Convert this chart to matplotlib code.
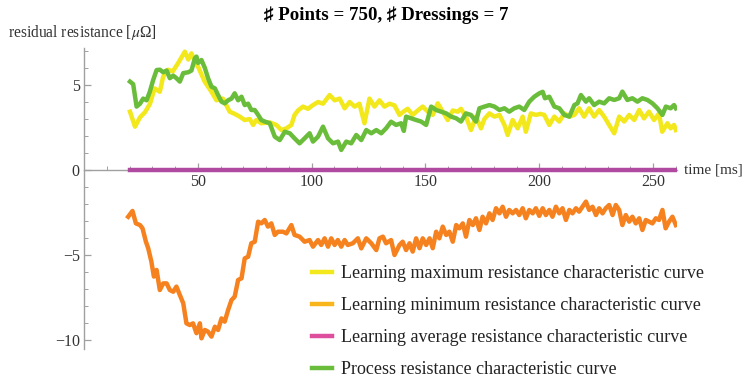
import matplotlib.pyplot as plt
from matplotlib.lines import Line2D
from matplotlib.ticker import MultipleLocator

plt.rcParams['font.family'] = ['Liberation Serif', 'DejaVu Sans']
plt.rcParams['mathtext.fontset'] = 'stix'

#Curves (time in ms, resistance in micro ohm)
t_max = [20.2, 22.4, 24.6, 26.8, 29, 31, 33.3, 34.8, 36.8, 39, 41.4, 44.3, 45.8, 47.2, 48.7,
         50.1, 53, 54.5, 56, 58.2, 61, 64, 66.2, 68.4, 70.6, 72.8, 74.3, 75.7, 77.9, 81.6,
         84.5, 86.7, 88.9, 91.1, 92.5, 94, 96.2, 98.4, 100.6, 102.8, 105, 107.9, 110.1, 112.3,
         114.5, 116.7, 118.9, 121, 123.2, 125.4, 127.6, 129.8, 132, 134.2, 136.4, 138.6, 140,
         142.2, 144.4, 146.6, 148.8, 151, 153.2, 155.4, 157.6, 159.8, 162, 164.2, 165.6, 167.8,
         170, 172.2, 174.4, 175.9, 178.1, 180.3, 182.5, 184.7, 186.1, 188.3, 190.5, 192.7,
         194.1, 196.3, 198.5, 200.5, 202.2, 204.4, 206.6, 208.8, 211, 213.2, 215.4, 217.5,
         219.7, 221.9, 224.1, 226.3, 228.5, 230.7, 232.9, 235.1, 237.3, 239.5, 241.7, 243.9,
         246, 248.2, 250.4, 252.6, 254, 256.3, 257.7, 259.2, 260]
r_max = [3.43, 2.55, 3.1, 3.4, 3.9, 4.8, 4.6, 5.5, 5.9, 5.8, 6.3, 6.96, 6.5, 6.86, 6.4,
         6.08, 5.2, 4.9, 4.6, 4.1, 4.2, 3.43, 3.3, 3.14, 2.94, 3.0, 2.65, 2.94, 2.75, 2.8,
         2.65, 2.35, 2.45, 2.65, 3.24, 3.5, 3.73, 3.6, 3.82, 4.0, 3.9, 4.41, 4.1, 4.2,
         3.63, 4.0, 3.73, 3.9, 2.75, 4.2, 3.73, 4.1, 3.73, 3.9, 3.8, 3.24, 3.4,
         3.6, 3.24, 3.5, 3.73, 3.43, 3.24, 3.92, 3.43, 2.94, 3.5, 3.43, 3.6, 3.14,
         2.35, 3.14, 2.45, 3.0, 3.33, 3.14, 3.24, 2.65, 2.06, 2.94, 2.45, 3.14,
         2.25, 3.33, 3.24, 3.3, 3.24, 2.65, 3.14, 2.85, 3.33, 3.14, 3.24, 3.63,
         3.14, 3.63, 3.14, 3.53, 3.14, 2.65, 2.16, 3.14, 2.85, 3.24, 2.94, 3.53,
         3.04, 3.43, 2.94, 3.33, 2.25, 2.75, 2.45, 2.65, 2.35]

t_min = [19.4, 21.3, 22.8, 24.6, 25.7, 27.2, 28.2, 29.6, 30.7, 31.9, 33.3, 34.8, 36.3, 37.7,
         39.2, 40.6, 42.1, 43.6, 45, 46.5, 47.9, 49.4, 50.9, 51.6, 53.1, 54.5, 56, 57.5, 58.9,
         60.4, 61.8, 63.3, 64.8, 66.2, 67.7, 69.2, 70.6, 72.1, 73.5, 75, 76.5, 77.9, 79.4,
         80.8, 82.3, 83.8, 85.2, 87.4, 88.9, 91.1, 92.5, 94.7, 96.9, 99.1, 100.6, 102.8, 104.2,
         105.7, 107.2, 108.6, 110.1, 111.5, 113, 114.5, 115.9, 118.1, 120.3, 121.8, 124, 126.2,
         128.4, 129.8, 131.3, 132.7, 134.9, 136.4, 138.6, 140, 141.5, 143, 144.4, 145.9, 147.4,
         148.8, 150.3, 151.8, 153.2, 154.7, 156.1, 157.6, 159.1, 160.5, 162, 163.5, 164.9,
         166.4, 167.8, 169.3, 170.8, 172.2, 173.7, 175.1, 176.6, 178.1, 179.5, 181, 182.5,
         183.9, 185.4, 186.8, 188.3, 189.8, 191.2, 192.7, 194.1, 195.6, 197.1, 198.5, 200,
         201.5, 202.9, 204.4, 205.8, 207.3, 208.8, 210.2, 211.7, 213.2, 214.6, 216.1, 217.5,
         219, 220.5, 221.9, 223.4, 224.9, 226.3, 227.8, 229.2, 230.7, 232.2, 233.6, 235.1,
         236.5, 238, 239.5, 240.9, 242.4, 243.9, 245.3, 246.8, 248.2, 249.7, 251.2, 252.6,
         254.1, 255.5, 257, 258.5, 260]
r_min = [-2.75, -2.41, -3.14, -3.24, -3.43, -4.22, -4.6, -5.39, -6.27, -5.88, -7.06, -6.67,
         -6.67, -7.06, -7.16, -6.86, -7.35, -7.84, -9.02, -9.12, -9.02, -9.6, -9.02, -9.9,
         -9.41, -9.51, -9.8, -9.22, -9.41, -8.73, -8.92, -8.24, -7.65, -7.45, -6.47, -6.37,
         -5.2, -5.1, -4.31, -4.22, -3.04, -3.14, -2.94, -3.33, -3.14, -3.82, -3.63, -3.63,
         -3.73, -3.24, -3.82, -3.92, -4.22, -4.12, -4.51, -4.12, -4.41, -4.02, -4.51, -4.02,
         -4.41, -4.12, -4.51, -4.12, -4.41, -4.31, -4.02, -4.61, -4.02, -4.31, -4.71, -4.02,
         -3.92, -4.31, -4.12, -5.0, -4.41, -4.22, -4.71, -4.31, -4.8, -4.02, -4.6, -4.02,
         -4.41, -4.02, -4.6, -3.63, -4.02, -3.33, -3.82, -3.63, -4.22, -3.24, -3.43, -3.14,
         -3.92, -2.94, -3.24, -2.84, -3.53, -2.75, -3.14, -2.55, -2.94, -2.25, -2.55, -2.16,
         -2.75, -2.35, -2.55, -2.35, -2.65, -2.25, -2.84, -2.35, -2.55, -2.25, -2.7, -2.25,
         -2.65, -2.35, -2.75, -2.16, -2.55, -2.25, -2.94, -2.35, -2.55, -2.25, -2.45, -2.16,
         -1.86, -2.35, -2.16, -2.65, -2.25, -2.55, -2.25, -2.06, -2.65, -2.06, -2.35, -3.24,
         -2.65, -3.04, -2.75, -3.14, -2.84, -3.53, -2.94, -3.04, -3.14, -2.84, -2.94, -2.35,
         -3.43, -3.04, -2.75, -3.24]

t_avg = [20, 260]
r_avg = [0, 0]

t_proc = [20.2, 21.6, 23.1, 24.6, 26, 27.5, 28.9, 30.4, 31.9, 33.3, 34.8, 36.3, 37.7, 39.2,
          40.6, 42.1, 43.6, 45.8, 47.2, 48.7, 49.4, 50.1, 51.6, 53.1, 54.5, 56, 57.5, 58.9,
          60.4, 61.8, 63.3, 64.8, 66.2, 67.7, 69.2, 70.6, 72.1, 73.5, 75, 76.5, 77.9, 79.4,
          81.6, 83.8, 86, 88.2, 90.4, 92.5, 94.7, 96.9, 99.1, 100.6, 102.8, 105, 107.2, 109.4,
          111.6, 113, 115.2, 117.4, 119.6, 121.8, 124, 126.2, 128.4, 130.6, 132.7, 134.9,
          137.1, 139.3, 140.5, 141.5, 143.7, 145.9, 148.1, 150.3, 152.5, 154.7, 156.9, 159.1,
          161.3, 163.5, 165.6, 167.8, 170, 172.2, 173.7, 175.9, 178.1, 180.3, 182.5, 184.7,
          186.8, 189, 191.2, 193.4, 195.6, 197.8, 200, 201.5, 202.5, 204.4, 206.6, 208.8, 211,
          213.2, 215.4, 216.8, 218.3, 220.5, 221.9, 224.1, 226.3, 228.5, 230.7, 232.9, 235.1,
          236.5, 238.7, 240.9, 243.1, 245.3, 247.5, 249.7, 251.9, 254.1, 255.6, 257.7, 259.2,
          260]
r_proc = [5.2, 5.05, 3.73, 3.9, 4.2, 4.1, 4.6, 5.3, 5.88, 5.9, 5.75, 5.85, 5.4, 5.55,
          5.4, 5.2, 5.7, 5.75, 5.85, 6.57, 6.67, 6.3, 6.47, 6.0, 5.4, 4.9, 4.8, 4.41,
          4.02, 3.92, 4.1, 4.2, 4.51, 4.1, 4.31, 3.82, 3.9, 3.53, 3.53, 3.24, 2.94, 2.85,
          2.75, 1.96, 1.76, 2.25, 2.16, 1.86, 1.57, 1.86, 2.16, 1.67, 1.96, 2.55, 1.86, 1.57,
          1.67, 1.18, 1.67, 1.57, 2.06, 1.76, 2.35, 2.16, 2.35, 2.16, 2.45, 2.84,
          2.65, 2.75, 2.3, 3.14, 3.04, 2.94, 2.85, 2.65, 3.73, 3.53, 3.43, 3.33,
          3.14, 3.04, 2.85, 3.33, 3.24, 2.85, 3.63, 3.73, 3.82, 3.73, 3.53, 3.63,
          3.43, 3.63, 3.73, 3.53, 4.02, 4.31, 4.51, 4.6, 4.22, 4.31, 3.73, 3.63, 3.24,
          3.14, 3.82, 3.92, 4.41, 4.02, 4.22, 3.82, 4.02, 3.92, 4.22, 4.12, 4.22,
          4.61, 4.12, 4.22, 4.02, 4.22, 4.12, 3.92, 3.63, 3.24, 3.73, 3.63, 3.82,
          3.63]

labels = ["Learning maximum resistance characteristic curve",
          "Learning minimum resistance characteristic curve",
          "Learning average resistance characteristic curve",
          "Process resistance characteristic curve"]
legend_colors = ['#F2E81C', '#F8B61C', '#DD4E9C', '#6ABD3A']

fig = plt.figure(figsize=(7.45, 3.8), dpi=100)
ax = fig.add_axes([84 / 745, 1 - 348.5 / 380, 593 / 745, 300.9 / 380])

ax.plot(t_avg, r_avg, color='#B04AA0', lw=3.2, zorder=3)
ax.plot(t_max, r_max, color='#F2E81C', lw=3.2, zorder=3)
ax.plot(t_min, r_min, color='#F5821F', lw=3.2, zorder=3)
ax.plot(t_proc, r_proc, color='#6ABD3A', lw=3.2, zorder=4)

ax.set_xlim(0, 260.5)
ax.set_ylim(-10.5, 7.2)

#Mathematica style axes crossing at the origin
for side in ['top', 'right']:
    ax.spines[side].set_visible(False)
for side in ['left', 'bottom']:
    ax.spines[side].set_position(('data', 0))
    ax.spines[side].set_color('#A0A0A0')
    ax.spines[side].set_linewidth(1)

ax.set_xticks([50, 100, 150, 200, 250])
ax.set_yticks([-10, -5, 0, 5])
ax.xaxis.set_minor_locator(MultipleLocator(10))
ax.yaxis.set_minor_locator(MultipleLocator(1))
ax.tick_params(which='both', direction='in', color='#A0A0A0', labelcolor='#333333',
               labelsize=11.5)
ax.tick_params(which='major', length=5, width=0.9, pad=3)
ax.tick_params(which='minor', length=3, width=0.7)
ax.set_facecolor('none')

ax.text(263.5, 0, 'time [ms]', fontsize=11, color='#333333', va='center', ha='left',
        clip_on=False)
fig.text(8 / 745, 1 - 33 / 380, 'residual resistance [$\\mu$Ω]', fontsize=11.2,
         color='#333333', ha='left', va='center')
fig.text(386 / 745, 1 - 15 / 380, '♯ Points = 750, ♯ Dressings = 7', fontsize=13.6,
         fontweight='bold', ha='center', va='center')

handles = [Line2D([], [], color=c, lw=3.2) for c in legend_colors]
fig.legend(handles, labels, loc='upper left', bbox_to_anchor=(312 / 745, 1 - 265 / 380),
           frameon=False, fontsize=13, handlelength=1.1, handletextpad=0.5,
           labelspacing=0.84, borderaxespad=0, borderpad=0, labelcolor='#222222')

fig.savefig('out.png', dpi=100)
